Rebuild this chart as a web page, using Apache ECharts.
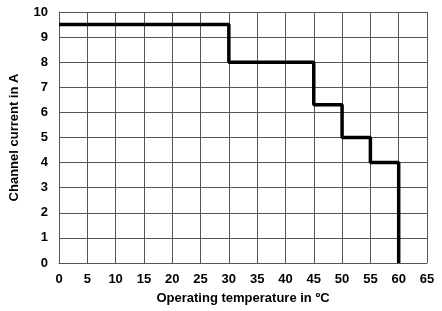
<!DOCTYPE html>
<html>
<head>
<meta charset="utf-8">
<script src="https://cdn.jsdelivr.net/npm/echarts@6/dist/echarts.min.js"></script>
<style>
  html, body { margin: 0; padding: 0; background: #fff; }
  #chart { width: 442px; height: 311px; }
</style>
</head>
<body>
<div id="chart"></div>
<script>
// step breakpoints (temperature, ºC) and the current level that starts there
const temps = [0, 30, 45, 50, 55, 60];
const currents = [9.5, 8, 6.3, 5, 4, 0];

const xTitle = 'Operating temperature in ºC';
const yTitle = 'Channel current in A';

const chart = echarts.init(document.getElementById('chart'));

const labelFont = {
  color: '#000',
  fontFamily: 'Liberation Sans, Arial, sans-serif',
  fontWeight: 'bold',
  fontSize: 13
};

chart.setOption({
  animation: false,
  grid: { left: 57, top: 12, width: 370, height: 251 },
  xAxis: {
    type: 'value',
    min: 0,
    max: 65,
    interval: 5,
    name: xTitle,
    nameLocation: 'middle',
    nameGap: 29,
    nameTextStyle: labelFont,
    axisLine: { show: true, lineStyle: { color: '#555', width: 1 } },
    axisTick: { show: false },
    axisLabel: Object.assign({ margin: 10 }, labelFont),
    splitLine: { show: true, lineStyle: { color: '#555', width: 1 } }
  },
  yAxis: {
    type: 'value',
    min: 0,
    max: 10,
    interval: 1,
    name: yTitle,
    nameLocation: 'middle',
    nameGap: 38,
    nameTextStyle: labelFont,
    axisLine: { show: true, lineStyle: { color: '#555', width: 1 } },
    axisTick: { show: false },
    axisLabel: Object.assign({ margin: 11 }, labelFont),
    splitLine: { show: true, lineStyle: { color: '#555', width: 1 } }
  },
  series: [{
    type: 'line',
    step: 'end',
    data: temps.map((t, i) => [t, currents[i]]),
    showSymbol: false,
    lineStyle: { color: '#000', width: 3.5 }
  }]
});
</script>
</body>
</html>
